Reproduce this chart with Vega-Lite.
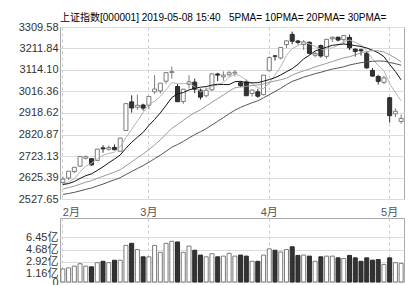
{
  "$schema": "https://vega.github.io/schema/vega-lite/v6.json",
  "padding": {"left": 5, "top": 12, "right": 0, "bottom": 0},
  "background": "white",
  "config": {
    "view": {"stroke": "#a8a8a8", "strokeWidth": 1},
    "axis": {"labelFont": "Liberation Sans, Noto Sans CJK SC, sans-serif", "labelFontSize": 11, "labelColor": "#333", "domain": false, "ticks": false, "tickSize": 0, "title": null, "gridColor": "#dcdcdc", "labelOverlap": false},
    "axisQuantitative": {"labelOverlap": false},
    "concat": {"spacing": -4}
  },
  "datasets": {
    "k": [
      {"d":"2019-02-01","o":2603,"h":2630,"l":2597,"c":2618.23,"v":1.9,"m5":2593.9,"m10":2593.4,"m20":2573.0,"m30":2548.8},
      {"d":"2019-02-11","o":2623,"h":2655,"l":2614,"c":2653.90,"v":2.05,"m5":2605.3,"m10":2597.8,"m20":2579.0,"m30":2552.7},
      {"d":"2019-02-12","o":2652,"h":2673,"l":2645,"c":2671.89,"v":2.3,"m5":2620.8,"m10":2607.0,"m20":2586.3,"m30":2557.9},
      {"d":"2019-02-13","o":2677,"h":2723,"l":2675,"c":2721.07,"v":2.65,"m5":2649.9,"m10":2621.0,"m20":2595.1,"m30":2564.4},
      {"d":"2019-02-14","o":2713,"h":2726,"l":2707,"c":2719.70,"v":2.3,"m5":2677.0,"m10":2633.8,"m20":2604.3,"m30":2571.5},
      {"d":"2019-02-15","o":2711,"h":2714,"l":2680,"c":2682.39,"v":2.2,"m5":2689.8,"m10":2641.9,"m20":2610.8,"m30":2577.7},
      {"d":"2019-02-18","o":2702,"h":2755,"l":2702,"c":2754.36,"v":2.8,"m5":2709.9,"m10":2657.6,"m20":2621.7,"m30":2586.7},
      {"d":"2019-02-19","o":2760,"h":2772,"l":2738,"c":2755.65,"v":3.0,"m5":2726.6,"m10":2673.7,"m20":2631.0,"m30":2595.4},
      {"d":"2019-02-20","o":2754,"h":2771,"l":2747,"c":2761.22,"v":2.8,"m5":2734.7,"m10":2692.3,"m20":2640.5,"m30":2605.3},
      {"d":"2019-02-21","o":2762,"h":2776,"l":2749,"c":2751.80,"v":3.15,"m5":2741.1,"m10":2709.0,"m20":2650.1,"m30":2614.9},
      {"d":"2019-02-22","o":2745,"h":2807,"l":2743,"c":2804.23,"v":3.15,"m5":2765.5,"m10":2727.6,"m20":2660.5,"m30":2624.5},
      {"d":"2019-02-25","o":2839,"h":2961.3,"l":2838,"c":2961.28,"v":5.3,"m5":2806.8,"m10":2758.4,"m20":2678.1,"m30":2638.8},
      {"d":"2019-02-26","o":2969,"h":2999,"l":2920,"c":2941.52,"v":5.6,"m5":2844.0,"m10":2785.3,"m20":2696.2,"m30":2652.6},
      {"d":"2019-02-27","o":2945,"h":3002,"l":2933,"c":2953.82,"v":4.7,"m5":2882.5,"m10":2808.6,"m20":2714.8,"m30":2666.3},
      {"d":"2019-02-28","o":2955,"h":2961,"l":2930,"c":2940.95,"v":3.65,"m5":2920.4,"m10":2830.7,"m20":2732.3,"m30":2679.8},
      {"d":"2019-03-01","o":2954,"h":2996,"l":2935,"c":2994.01,"v":3.65,"m5":2958.3,"m10":2861.9,"m20":2751.9,"m30":2694.5},
      {"d":"2019-03-04","o":3015,"h":3090.8,"l":3006,"c":3027.58,"v":5.3,"m5":2971.6,"m10":2889.2,"m20":2773.4,"m30":2710.9},
      {"d":"2019-03-05","o":3019,"h":3055,"l":3007,"c":3054.25,"v":4.3,"m5":2994.1,"m10":2919.1,"m20":2796.4,"m30":2727.0},
      {"d":"2019-03-06","o":3063,"h":3103.8,"l":3050,"c":3102.10,"v":5.6,"m5":3023.8,"m10":2953.2,"m20":2822.7,"m30":2744.7},
      {"d":"2019-03-07","o":3103,"h":3129.9,"l":3075,"c":3106.42,"v":5.9,"m5":3056.9,"m10":2988.6,"m20":2848.8,"m30":2762.9},
      {"d":"2019-03-08","o":3039,"h":3050,"l":2969,"c":2969.86,"v":5.8,"m5":3052.0,"m10":3005.2,"m20":2866.4,"m30":2775.4},
      {"d":"2019-03-11","o":2971,"h":3028,"l":2960,"c":3026.99,"v":4.3,"m5":3051.9,"m10":3011.8,"m20":2885.1,"m30":2789.3},
      {"d":"2019-03-12","o":3049,"h":3090.8,"l":3030,"c":3060.31,"v":5.2,"m5":3053.1,"m10":3023.6,"m20":2904.5,"m30":2805.3},
      {"d":"2019-03-13","o":3059,"h":3075,"l":3009,"c":3026.95,"v":4.6,"m5":3038.1,"m10":3030.9,"m20":2919.8,"m30":2820.2},
      {"d":"2019-03-14","o":3022,"h":3030,"l":2979,"c":2990.69,"v":3.9,"m5":3015.0,"m10":3035.9,"m20":2933.3,"m30":2833.5},
      {"d":"2019-03-15","o":2997,"h":3034,"l":2990,"c":3021.75,"v":3.65,"m5":3025.3,"m10":3038.7,"m20":2950.3,"m30":2847.5},
      {"d":"2019-03-18","o":3024,"h":3096.6,"l":3018,"c":3096.42,"v":4.1,"m5":3039.2,"m10":3045.6,"m20":2967.4,"m30":2864.1},
      {"d":"2019-03-19","o":3096,"h":3101.5,"l":3064,"c":3090.98,"v":3.65,"m5":3045.4,"m10":3049.2,"m20":2984.2,"m30":2880.7},
      {"d":"2019-03-20","o":3083,"h":3107.6,"l":3065,"c":3090.64,"v":3.75,"m5":3058.1,"m10":3048.1,"m20":3000.6,"m30":2897.9},
      {"d":"2019-03-21","o":3092,"h":3110,"l":3084,"c":3101.46,"v":4.15,"m5":3080.3,"m10":3047.6,"m20":3018.1,"m30":2915.1},
      {"d":"2019-03-22","o":3100,"h":3114,"l":3085,"c":3104.15,"v":3.75,"m5":3096.7,"m10":3061.0,"m20":3033.1,"m30":2931.3},
      {"d":"2019-03-25","o":3056,"h":3063,"l":3036,"c":3043.03,"v":3.9,"m5":3086.1,"m10":3062.6,"m20":3037.2,"m30":2944.2},
      {"d":"2019-03-26","o":3060,"h":3070,"l":2997,"c":2997.10,"v":3.75,"m5":3067.3,"m10":3056.3,"m20":3040.0,"m30":2955.1},
      {"d":"2019-03-27","o":3007,"h":3024,"l":2993,"c":3022.72,"v":3.0,"m5":3053.7,"m10":3055.9,"m20":3043.4,"m30":2965.1},
      {"d":"2019-03-28","o":3015,"h":3028,"l":2988,"c":2994.94,"v":3.0,"m5":3032.4,"m10":3056.3,"m20":3046.1,"m30":2974.3},
      {"d":"2019-03-29","o":3002,"h":3091,"l":2999,"c":3090.76,"v":3.9,"m5":3029.7,"m10":3063.2,"m20":3051.0,"m30":2987.9},
      {"d":"2019-04-01","o":3111,"h":3176,"l":3111,"c":3170.36,"v":4.8,"m5":3055.2,"m10":3070.6,"m20":3058.1,"m30":3001.8},
      {"d":"2019-04-02","o":3178,"h":3182,"l":3157,"c":3176.82,"v":4.6,"m5":3091.1,"m10":3079.2,"m20":3064.2,"m30":3015.8},
      {"d":"2019-04-03","o":3169,"h":3217,"l":3162,"c":3216.30,"v":4.35,"m5":3129.8,"m10":3091.8,"m20":3069.9,"m30":3031.0},
      {"d":"2019-04-04","o":3230,"h":3250,"l":3214,"c":3246.57,"v":4.7,"m5":3180.2,"m10":3106.3,"m20":3076.9,"m30":3047.5},
      {"d":"2019-04-08","o":3276,"h":3288.5,"l":3231,"c":3244.81,"v":5.1,"m5":3211.0,"m10":3120.3,"m20":3090.7,"m30":3062.2},
      {"d":"2019-04-09","o":3246,"h":3251,"l":3230,"c":3239.66,"v":3.85,"m5":3224.8,"m10":3140.0,"m20":3101.3,"m30":3071.5},
      {"d":"2019-04-10","o":3230,"h":3250,"l":3205,"c":3241.93,"v":3.9,"m5":3237.9,"m10":3164.5,"m20":3110.4,"m30":3081.5},
      {"d":"2019-04-11","o":3240,"h":3244,"l":3186,"c":3189.96,"v":3.75,"m5":3232.6,"m10":3181.2,"m20":3118.6,"m30":3089.3},
      {"d":"2019-04-12","o":3181,"h":3197,"l":3171,"c":3188.63,"v":3.0,"m5":3221.0,"m10":3200.6,"m20":3128.4,"m30":3097.6},
      {"d":"2019-04-15","o":3225,"h":3230,"l":3170,"c":3177.79,"v":3.65,"m5":3207.6,"m10":3209.3,"m20":3136.3,"m30":3103.7},
      {"d":"2019-04-16","o":3176,"h":3254,"l":3166,"c":3253.60,"v":3.75,"m5":3210.4,"m10":3217.6,"m20":3144.1,"m30":3111.3},
      {"d":"2019-04-17","o":3256,"h":3266,"l":3242,"c":3263.12,"v":3.75,"m5":3214.6,"m10":3226.2,"m20":3152.7,"m30":3118.2},
      {"d":"2019-04-18","o":3263,"h":3266,"l":3244,"c":3250.20,"v":3.5,"m5":3226.7,"m10":3229.6,"m20":3160.7,"m30":3123.2},
      {"d":"2019-04-19","o":3252,"h":3272,"l":3232,"c":3270.80,"v":3.4,"m5":3243.1,"m10":3232.1,"m20":3169.2,"m30":3128.6},
      {"d":"2019-04-22","o":3262,"h":3275,"l":3205,"c":3215.04,"v":3.85,"m5":3250.6,"m10":3229.1,"m20":3174.7,"m30":3136.8},
      {"d":"2019-04-23","o":3209,"h":3212,"l":3175,"c":3198.59,"v":3.5,"m5":3239.6,"m10":3225.0,"m20":3182.5,"m30":3142.5},
      {"d":"2019-04-24","o":3206,"h":3211,"l":3180,"c":3201.61,"v":3.0,"m5":3227.2,"m10":3220.9,"m20":3192.7,"m30":3147.2},
      {"d":"2019-04-25","o":3190,"h":3197,"l":3120,"c":3123.83,"v":3.5,"m5":3202.0,"m10":3214.3,"m20":3197.8,"m30":3150.5},
      {"d":"2019-04-26","o":3112,"h":3123,"l":3084,"c":3086.40,"v":3.16,"m5":3165.1,"m10":3204.1,"m20":3202.3,"m30":3153.7},
      {"d":"2019-04-29","o":3085,"h":3092,"l":3048,"c":3062.50,"v":3.25,"m5":3134.6,"m10":3192.6,"m20":3200.9,"m30":3155.0},
      {"d":"2019-04-30","o":3058,"h":3088,"l":3050,"c":3078.34,"v":2.55,"m5":3110.5,"m10":3175.0,"m20":3196.3,"m30":3154.4},
      {"d":"2019-05-06","o":2988,"h":2992,"l":2875,"c":2906.46,"v":3.5,"m5":3051.5,"m10":3139.4,"m20":3182.8,"m30":3148.3},
      {"d":"2019-05-07","o":2915,"h":2940,"l":2900,"c":2926.39,"v":2.8,"m5":3012.0,"m10":3107.0,"m20":3168.3,"m30":3142.8},
      {"d":"2019-05-08","o":2880,"h":2912,"l":2870,"c":2893.76,"v":2.7,"m5":2973.5,"m10":3069.3,"m20":3150.7,"m30":3135.9}
    ]
  },
  "vconcat": [
    {
      "width": 344,
      "height": 172,
      "title": {"text": "上证指数[000001] 2019-05-08 15:40\u00a0\u00a0\u00a05PMA= 10PMA= 20PMA= 30PMA=", "anchor": "start", "frame": "group", "fontSize": 10, "fontWeight": "normal", "font": "Liberation Sans, Noto Sans CJK SC, sans-serif", "color": "#000", "offset": -2},
      "data": {"name": "k"},
      "encoding": {
        "x": {"field": "d", "type": "ordinal", "scale": {"paddingInner": 0, "paddingOuter": 0},
          "axis": {"values": ["2019-02-01", "2019-03-01", "2019-04-01", "2019-05-06"], "labelExpr": "toNumber(substring(datum.value,5,7)) + '月'", "labelAngle": 0, "labelPadding": 7, "labelFlush": 5, "labelColor": "#555", "labelOverlap": false, "grid": true, "gridDash": [3, 3], "gridColor": "#c8c8c8", "bandPosition": 0.5}}
      },
      "layer": [
        {
          "mark": {"type": "rule", "strokeWidth": 1},
          "encoding": {
            "y": {"field": "l", "type": "quantitative", "scale": {"domain": [2527.65, 3309.58], "nice": false, "zero": false},
              "axis": {"values": [2527.65, 2625.39, 2723.13, 2820.87, 2918.62, 3016.36, 3114.10, 3211.84, 3309.58], "format": ".2f", "grid": true, "labelOverlap": false, "labelSeparation": 0, "labelPadding": 2, "minExtent": 54, "maxExtent": 54}},
            "y2": {"field": "h"},
            "color": {"condition": {"test": "datum.c >= datum.o", "value": "#7a7a7a"}, "value": "#2a2a2a"}
          }
        },
        {
          "mark": {"type": "bar", "size": 4, "strokeWidth": 1},
          "encoding": {
            "y": {"field": "o", "type": "quantitative",
              "axis": {"values": [2527.65, 2625.39, 2723.13, 2820.87, 2918.62, 3016.36, 3114.10, 3211.84, 3309.58], "format": ".2f", "grid": true, "labelOverlap": false, "labelSeparation": 0, "labelPadding": 2, "minExtent": 54, "maxExtent": 54}},
            "y2": {"field": "c"},
            "fill": {"condition": {"test": "datum.c >= datum.o", "value": "#ffffff"}, "value": "#333333"},
            "stroke": {"condition": {"test": "datum.c >= datum.o", "value": "#7a7a7a"}, "value": "#2a2a2a"}
          }
        },
        {"mark": {"type": "line", "strokeWidth": 1, "color": "#b4b4b4"}, "encoding": {"y": {"field": "m5", "type": "quantitative", "axis": {"values": [2527.65, 2625.39, 2723.13, 2820.87, 2918.62, 3016.36, 3114.10, 3211.84, 3309.58], "format": ".2f", "grid": true, "labelOverlap": false, "labelSeparation": 0, "labelPadding": 2, "minExtent": 54, "maxExtent": 54}}}},
        {"mark": {"type": "line", "strokeWidth": 1, "color": "#111111"}, "encoding": {"y": {"field": "m10", "type": "quantitative", "axis": {"values": [2527.65, 2625.39, 2723.13, 2820.87, 2918.62, 3016.36, 3114.10, 3211.84, 3309.58], "format": ".2f", "grid": true, "labelOverlap": false, "labelSeparation": 0, "labelPadding": 2, "minExtent": 54, "maxExtent": 54}}}},
        {"mark": {"type": "line", "strokeWidth": 1, "color": "#9a9a9a"}, "encoding": {"y": {"field": "m20", "type": "quantitative", "axis": {"values": [2527.65, 2625.39, 2723.13, 2820.87, 2918.62, 3016.36, 3114.10, 3211.84, 3309.58], "format": ".2f", "grid": true, "labelOverlap": false, "labelSeparation": 0, "labelPadding": 2, "minExtent": 54, "maxExtent": 54}}}},
        {"mark": {"type": "line", "strokeWidth": 1, "color": "#555555"}, "encoding": {"y": {"field": "m30", "type": "quantitative", "axis": {"values": [2527.65, 2625.39, 2723.13, 2820.87, 2918.62, 3016.36, 3114.10, 3211.84, 3309.58], "format": ".2f", "grid": true, "labelOverlap": false, "labelSeparation": 0, "labelPadding": 2, "minExtent": 54, "maxExtent": 54}}}}
      ]
    },
    {
      "width": 344,
      "height": 64,
      "data": {"name": "k"},
      "mark": {"type": "bar", "size": 4, "strokeWidth": 1},
      "encoding": {
        "x": {"field": "d", "type": "ordinal", "scale": {"paddingInner": 0, "paddingOuter": 0},
          "axis": {"values": ["2019-02-01", "2019-03-01", "2019-04-01", "2019-05-06"], "labels": false, "grid": true, "gridDash": [3, 3], "gridColor": "#c8c8c8", "bandPosition": 0.5}},
        "y": {"field": "v", "type": "quantitative", "scale": {"domain": [0, 9.27], "nice": false},
          "axis": {"values": [0, 1.16, 2.92, 4.68, 6.45], "labelExpr": "datum.value == 0 ? '0' : format(datum.value, '.2f') + '亿'", "grid": true, "labelOverlap": false, "labelPadding": 2, "minExtent": 54, "maxExtent": 54}},
        "fill": {"condition": {"test": "datum.c >= datum.o", "value": "#ffffff"}, "value": "#333333"},
        "stroke": {"condition": {"test": "datum.c >= datum.o", "value": "#7a7a7a"}, "value": "#2a2a2a"}
      }
    }
  ]
}
